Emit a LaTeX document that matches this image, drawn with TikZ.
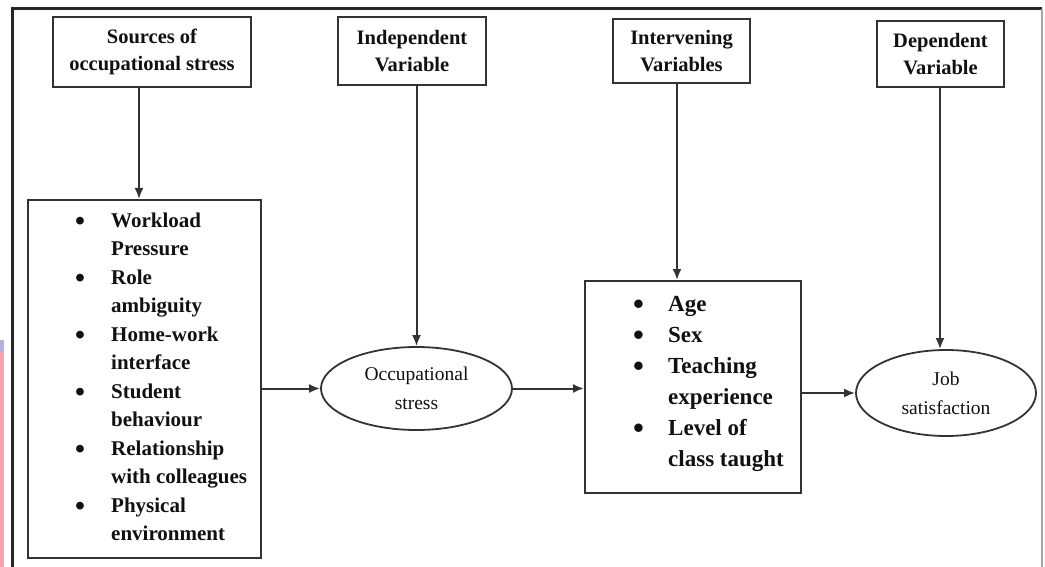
\documentclass[tikz,border=0pt]{standalone}
\usepackage{fontspec}
\setmainfont{Liberation Serif}
\usetikzlibrary{shapes.geometric,arrows.meta}
\definecolor{boxc}{HTML}{333333}
\definecolor{txtc}{HTML}{111111}
\definecolor{pinkc}{HTML}{F4A3AA}
\definecolor{lavc}{HTML}{B8AEE0}
\newcommand{\bul}{\raisebox{-0.13em}{\scalebox{1.35}{\textbullet}}}
\begin{document}
\begin{tikzpicture}[x=1pt,y=-1pt,
  hbox/.style={draw=boxc,line width=2pt,inner sep=0pt,align=center,text=txtc,
    font=\bfseries\fontsize{20.5}{27}\selectfont},
  lbox/.style={draw=boxc,line width=2pt,inner sep=0pt},
  ell/.style={draw=boxc,line width=1.8pt,ellipse,inner sep=0pt,align=center,text=txtc,
    font=\fontsize{19.5}{29}\selectfont},
  listtxt/.style={inner sep=0pt,anchor=west,text=txtc},
  arr/.style={draw=boxc,line width=2pt,-{Latex[length=11pt,width=9pt]}}]
\useasboundingbox (0,0) rectangle (1045,567);
% page edge and frame
\fill[lavc] (0,340) rectangle (3.5,352);
\fill[pinkc] (0,352) rectangle (3.5,567);
\draw[line width=3pt,black!85] (12,567) -- (12,9) -- (1042,9);
\draw[line width=1.2pt,black!35] (1042,9) -- (1042,567);
% header boxes
\node[hbox,minimum width=198pt,minimum height=70pt] (h1) at (152,52) {Sources of\\occupational stress};
\node[hbox,minimum width=148pt,minimum height=68pt] (h2) at (412,51) {Independent\\Variable};
\node[hbox,minimum width=137pt,minimum height=64pt] (h3) at (681.5,51) {Intervening\\Variables};
\node[hbox,minimum width=127pt,minimum height=66pt] (h4) at (940.5,54) {Dependent\\Variable};
% list boxes
\node[lbox,minimum width=233pt,minimum height=358pt] (src) at (144.5,379) {};
\node[listtxt,font=\bfseries\fontsize{21}{28.5}\selectfont] (srclist) at (75,378.5) {%
\begin{tabular}{@{}p{36pt}@{}l@{}}
\bul & Workload\\
 & Pressure\\
\bul & Role\\
 & ambiguity\\
\bul & Home-work\\
 & interface\\
\bul & Student\\
 & behaviour\\
\bul & Relationship\\
 & with colleagues\\
\bul & Physical\\
 & environment
\end{tabular}};
\node[lbox,minimum width=216pt,minimum height=212pt] (int) at (693,387) {};
\node[listtxt,font=\bfseries\fontsize{23}{31}\selectfont] (intlist) at (633,383) {%
\begin{tabular}{@{}p{35pt}@{}l@{}}
\bul & Age\\
\bul & Sex\\
\bul & Teaching\\
 & experience\\
\bul & Level of\\
 & class taught
\end{tabular}};
% ellipses
\node[ell,minimum width=191pt,minimum height=83pt] (e1) at (416.5,388.5) {Occupational\\stress};
\node[ell,minimum width=180pt,minimum height=86pt] (e2) at (946,393) {Job\\satisfaction};
% vertical connectors
\coordinate (c1) at (139,0);
\coordinate (c3) at (677,0);
\coordinate (c4) at (940,0);
\draw[arr] (h1.south -| c1) -- (src.north -| c1);
\draw[arr] (h2.south -| e1.north) -- (e1.north);
\draw[arr] (h3.south -| c3) -- (int.north -| c3);
\draw[arr] (h4.south -| c4) -- (e2.north -| c4);
% horizontal connectors
\draw[arr] (src.east |- e1.west) -- (e1.west);
\draw[arr] (e1.east) -- (int.west |- e1.east);
\draw[arr] (int.east |- e2.west) -- (e2.west);
\end{tikzpicture}
\end{document}
